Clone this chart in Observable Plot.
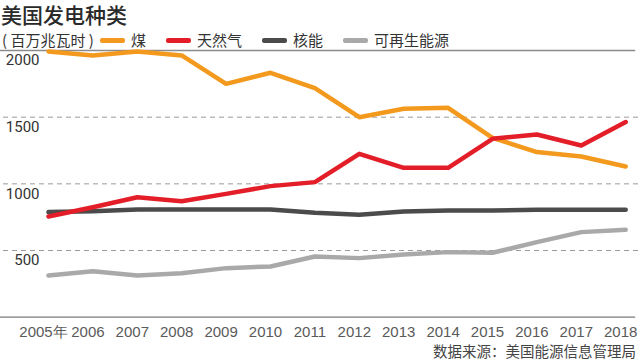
<!DOCTYPE html>
<html><head><meta charset="utf-8">
<script src="https://cdn.jsdelivr.net/npm/d3@7"></script>
<script src="https://cdn.jsdelivr.net/npm/@observablehq/plot@0.6"></script>
<style>
html,body{margin:0;padding:0;background:#fff;}
#wrap{position:relative;width:641px;height:362px;overflow:hidden;font-family:"Noto Sans CJK SC","Noto Sans",sans-serif;color:#333;}
#header{position:relative;height:45px;}
.title{position:absolute;left:1px;top:0px;font-size:21px;line-height:28px;font-weight:500;color:#2a2a2a;white-space:nowrap;}
.leg{position:absolute;top:31px;font-size:15px;line-height:18px;white-space:nowrap;color:#333;}
.sw{position:absolute;top:38px;width:25px;height:5px;border-radius:2px;}
.cap{position:absolute;right:5px;top:341px;font-size:14.5px;line-height:20px;color:#444;white-space:nowrap;}
</style></head><body>
<div id="wrap">
  <div id="header"></div>
  <div id="chart"></div>
  <div class="cap" id="cap"></div>
</div>
<script>
const years = [2005, 2006, 2007, 2008, 2009, 2010, 2011, 2012, 2013, 2014, 2015, 2016, 2017, 2018];
const xLabels = ["2005年", "2006", "2007", "2008", "2009", "2010", "2011", "2012", "2013", "2014", "2015", "2016", "2017", "2018"];
const yTicks = [500, 1000, 1500, 2000];
const coal = [1993, 1963, 1993, 1963, 1750, 1833, 1718, 1500, 1563, 1570, 1345, 1238, 1205, 1130];
const gas = [755, 825, 900, 870, 925, 983, 1013, 1225, 1120, 1120, 1338, 1370, 1288, 1463];
const nuclear = [788, 795, 808, 808, 808, 808, 783, 768, 793, 800, 800, 805, 805, 805];
const renewable = [313, 345, 313, 330, 368, 380, 455, 443, 470, 488, 483, 563, 638, 655];
const seriesNames = ["煤", "天然气", "核能", "可再生能源"];
const seriesColors = ["#f39a1e", "#e31e28", "#4b4b4b", "#a9a9a9"];
const titleText = "美国发电种类";
const unitText = "( 百万兆瓦时 )";
const sourceText = "数据来源：美国能源信息管理局";

// header (title + legend)
const header = document.getElementById("header");
const t = document.createElement("div"); t.className = "title"; t.textContent = titleText; header.appendChild(t);
const u = document.createElement("div"); u.className = "leg"; u.style.left = "2px"; u.textContent = unitText; header.appendChild(u);
const swatchLeft = [100, 166, 262, 343];
seriesNames.forEach((name, i) => {
  const s = document.createElement("div"); s.className = "sw";
  s.style.left = swatchLeft[i] + "px"; s.style.background = seriesColors[i];
  header.appendChild(s);
  const l = document.createElement("div"); l.className = "leg";
  l.style.left = (swatchLeft[i] + 31) + "px"; l.textContent = name;
  header.appendChild(l);
});
document.getElementById("cap").textContent = sourceText;

const seriesValues = [coal, gas, nuclear, renewable];
const rows = seriesNames.flatMap((name, s) => years.map((y, i) => ({series: name, year: y, value: seriesValues[s][i]})));
const drawOrder = ["可再生能源", "核能", "煤", "天然气"];

const chart = Plot.plot({
  width: 641,
  height: 300,
  marginTop: 5,
  marginBottom: 28.3,
  marginLeft: 48,
  marginRight: 15.8,
  style: {fontFamily: "Roboto, sans-serif", fontSize: "15px", color: "#333", background: "#fff"},
  x: {domain: [2005, 2018], type: "linear", label: null},
  y: {domain: [0, 2000], label: null},
  color: {domain: seriesNames, range: seriesColors},
  marks: [
    Plot.ruleY([500, 1000, 1500], {stroke: "#9a9a9a", strokeWidth: 1, strokeDasharray: "5,4", insetLeft: -45, insetRight: -16}),
    Plot.ruleY([2000], {stroke: "#8c8c8c", strokeWidth: 1.3, insetLeft: -48, insetRight: -10}),
    Plot.ruleY([0], {stroke: "#7a7a7a", strokeWidth: 1.3, insetLeft: -48, insetRight: -10}),
    ...drawOrder.map(name => Plot.line(rows.filter(d => d.series === name), {
      x: "year", y: "value", stroke: "series", strokeWidth: 4.5, strokeLinejoin: "round", strokeLinecap: "round"
    })),
    Plot.axisY(yTicks, {label: null, tickSize: 0, tickPadding: 9, dy: 10, fontSize: 15, fill: "#333", fontFamily: "Roboto, sans-serif",
      tickFormat: (d) => String(d)}),
    Plot.axisX(years, {label: null, tickSize: 0, tickPadding: 9, dx: -5, fontSize: 15, fill: "#5a5a5a", fontFamily: "'Liberation Sans', sans-serif",
      tickFormat: (d) => xLabels[years.indexOf(d)]})
  ]
});
document.getElementById("chart").appendChild(chart);
</script>
</body></html>
